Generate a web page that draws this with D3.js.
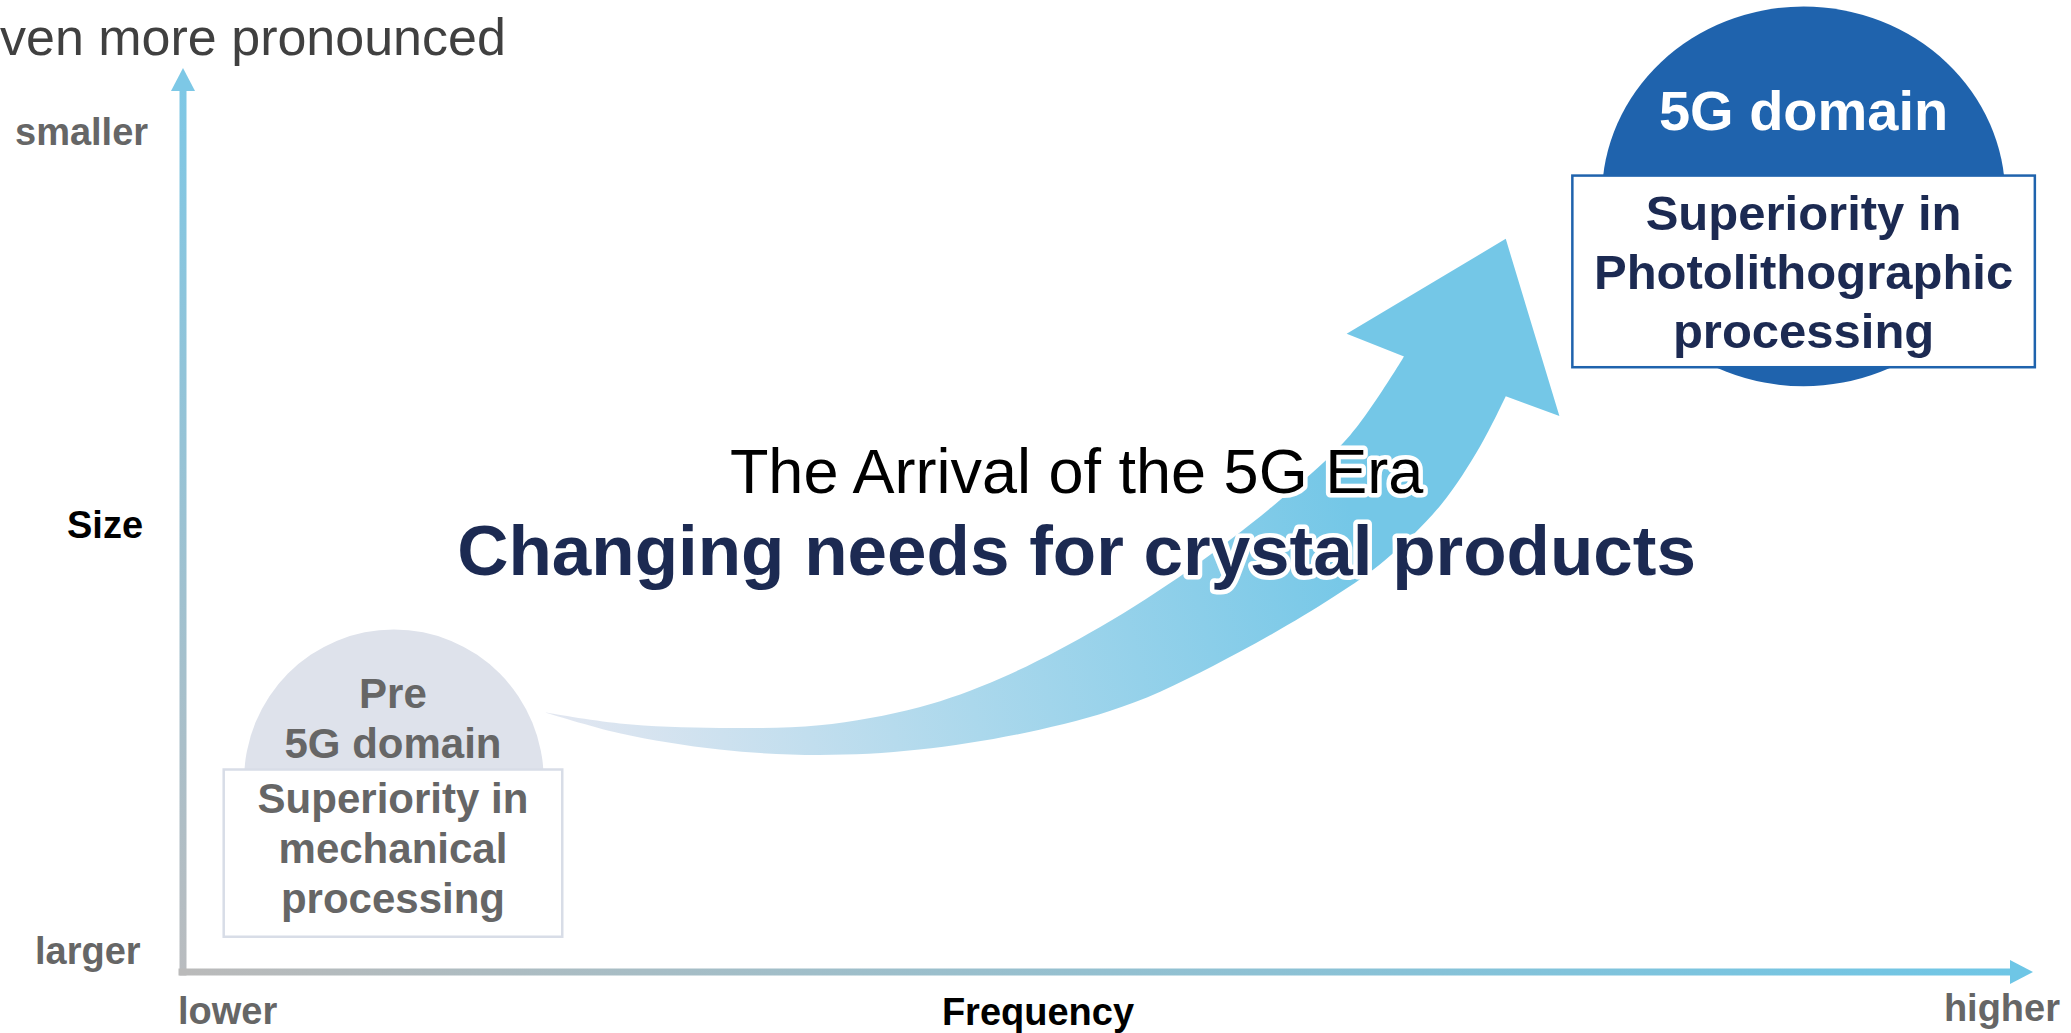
<!DOCTYPE html>
<html>
<head>
<meta charset="utf-8">
<script src="https://cdn.jsdelivr.net/npm/d3@7"></script>
<style>
  html, body { margin: 0; padding: 0; background: #ffffff; }
  svg { display: block; }
  text { font-family: "Liberation Sans", Arial, Helvetica, sans-serif; }
</style>
</head>
<body>
<svg id="chart" width="2071" height="1033"></svg>
<script>
// Axis ends (frequency runs left→right, size runs larger→smaller upward)
const axisDomain = [0, 100];
const sizeLabels = ["smaller", "Size", "larger"];
const freqLabels = ["lower", "Frequency", "higher"];

// Curved transition arrow, expressed in [frequency, size] units
const arrowUpper = [[19.6, 28.7], [23.6, 27.5], [29.0, 27.0], [34.4, 27.3], [39.8, 29.3], [44.2, 32.5],
                    [49.6, 38.2], [54.4, 44.5], [59.3, 52.2], [63.1, 59.4], [66.0, 68.1]];
const arrowHead  = [[62.9, 70.6], [71.5, 81.1], [74.4, 61.5], [71.5, 63.7]];
const arrowLower = [[71.5, 63.7], [70.1, 58.1], [68.0, 51.7], [65.0, 45.6], [62.2, 41.5], [57.1, 35.4],
                    [51.4, 29.8], [46.3, 26.8], [39.8, 24.6], [34.4, 24.0], [29.0, 24.6], [23.6, 26.4], [19.6, 28.7]];

// The two technology domains
const domainTitles   = [["Pre", "5G domain"], ["5G domain"]];
const domainFeatures = [["Superiority in", "mechanical", "processing"],
                        ["Superiority in", "Photolithographic", "processing"]];
const domainCentres  = [[11.4, 21.2], [87.6, 85.8]];
const domainRadii    = [[8.1, 16.7], [10.9, 21.0]];
const domainBoxes    = [[2.2, 20.5, 22.4, 3.9], [75.1, 100.1, 88.1, 66.9]]; // f0, f1, sizeTop, sizeBottom

const headline = ["The Arrival of the 5G Era", "Changing needs for crystal products"];
const introTail = "ven more pronounced";

const svg = d3.select("#chart");

const x = d3.scaleLinear().domain(axisDomain).range([183, 2033]);
const y = d3.scaleLinear().domain(axisDomain).range([972, 68]);

const defs = svg.append("defs");

// Gradients
const gv = defs.append("linearGradient").attr("id", "gradV")
  .attr("gradientUnits", "userSpaceOnUse")
  .attr("x1", 0).attr("y1", y(100)).attr("x2", 0).attr("y2", y(0));
gv.append("stop").attr("offset", 0).attr("stop-color", "#7dc8e6");
gv.append("stop").attr("offset", 1).attr("stop-color", "#b9bcbf");

const gh = defs.append("linearGradient").attr("id", "gradH")
  .attr("gradientUnits", "userSpaceOnUse")
  .attr("x1", x(0)).attr("y1", 0).attr("x2", x(100)).attr("y2", 0);
gh.append("stop").attr("offset", 0).attr("stop-color", "#bababa");
gh.append("stop").attr("offset", 1).attr("stop-color", "#6ec6e6");

const ga = defs.append("linearGradient").attr("id", "gradArrow")
  .attr("gradientUnits", "userSpaceOnUse")
  .attr("x1", x(19.6)).attr("y1", y(28.7)).attr("x2", x(63)).attr("y2", y(52));
ga.append("stop").attr("offset", 0).attr("stop-color", "#e3e7f1");
ga.append("stop").attr("offset", 0.5).attr("stop-color", "#abd8ec");
ga.append("stop").attr("offset", 1).attr("stop-color", "#74c7e7");

// Tail of the introductory sentence at the top
svg.append("text")
  .attr("x", 0).attr("y", 55)
  .attr("font-size", 52).attr("fill", "#404040")
  .text(introTail);

// Axes
const axisW = 7;
const headLen = 23, headHalf = 12;
svg.append("rect")
  .attr("x", x(0) - axisW / 2).attr("y", y(100) + headLen - 1)
  .attr("width", axisW).attr("height", y(0) + axisW / 2 - (y(100) + headLen - 1))
  .attr("fill", "url(#gradV)");
svg.append("path")
  .attr("d", `M${x(0)},${y(100)} L${x(0) + headHalf},${y(100) + headLen} L${x(0) - headHalf},${y(100) + headLen} Z`)
  .attr("fill", "#7dc8e6");

svg.append("rect")
  .attr("x", x(0) - axisW / 2 - 1).attr("y", y(0) - axisW / 2)
  .attr("width", x(100) - headLen + 1 - (x(0) - axisW / 2 - 1)).attr("height", axisW)
  .attr("fill", "url(#gradH)");
svg.append("path")
  .attr("d", `M${x(100)},${y(0)} L${x(100) - headLen},${y(0) - headHalf} L${x(100) - headLen},${y(0) + headHalf} Z`)
  .attr("fill", "#6ec6e6");

// Axis labels
const axisFont = 38;
svg.append("text").attr("x", 15).attr("y", 145).attr("font-size", axisFont)
  .attr("font-weight", "bold").attr("fill", "#666666").text(sizeLabels[0]);
svg.append("text").attr("x", 67).attr("y", 538).attr("font-size", axisFont)
  .attr("font-weight", "bold").attr("fill", "#000000").text(sizeLabels[1]);
svg.append("text").attr("x", 35).attr("y", 964).attr("font-size", axisFont)
  .attr("font-weight", "bold").attr("fill", "#666666").text(sizeLabels[2]);

svg.append("text").attr("x", x(0) - 5).attr("y", 1024).attr("font-size", axisFont)
  .attr("font-weight", "bold").attr("fill", "#666666").text(freqLabels[0]);
svg.append("text").attr("x", 1038).attr("y", 1025).attr("font-size", axisFont)
  .attr("text-anchor", "middle").attr("font-weight", "bold").attr("fill", "#000000").text(freqLabels[1]);
svg.append("text").attr("x", 2060).attr("y", 1021).attr("font-size", axisFont)
  .attr("text-anchor", "end").attr("font-weight", "bold").attr("fill", "#666666").text(freqLabels[2]);

// Domains
const domainFill   = ["#dee2eb", "#1f63ad"];
const boxStroke    = ["#d8dde7", "#1f63ad"];
const titleColour  = ["#666666", "#ffffff"];
const featColour   = ["#666666", "#1c2a52"];
const titleSize    = [42, 56];
const featSize     = [42, 49];
const titleOffsets = [[-62, -12], [-46]];
const featStart    = [43, 54];
const featStep     = [50, 59];

domainCentres.forEach((c, i) => {
  const g = svg.append("g").attr("class", "domain");
  const [rf, rs] = domainRadii[i];
  g.append("ellipse")
    .attr("cx", x(c[0])).attr("cy", y(c[1]))
    .attr("rx", x(rf) - x(0)).attr("ry", y(0) - y(rs))
    .attr("fill", domainFill[i]);
  const [f0, f1, sTop, sBot] = domainBoxes[i];
  const bx = x(f0), bw = x(f1) - x(f0), by = y(sTop), bh = y(sBot) - y(sTop);
  const midX = bx + bw / 2;
  domainTitles[i].forEach((t, k) => {
    g.append("text").attr("x", midX).attr("y", by + titleOffsets[i][k])
      .attr("text-anchor", "middle").attr("font-size", titleSize[i])
      .attr("font-weight", "bold").attr("fill", titleColour[i]).text(t);
  });
  g.append("rect").attr("x", bx).attr("y", by).attr("width", bw).attr("height", bh)
    .attr("fill", "#ffffff").attr("stroke", boxStroke[i]).attr("stroke-width", 2.5);
  domainFeatures[i].forEach((t, k) => {
    g.append("text").attr("x", midX).attr("y", by + featStart[i] + k * featStep[i])
      .attr("text-anchor", "middle").attr("font-size", featSize[i])
      .attr("font-weight", "bold").attr("fill", featColour[i]).text(t);
  });
});

// Transition arrow
const edge = d3.line().x(d => x(d[0])).y(d => y(d[1])).curve(d3.curveCatmullRom.alpha(0.5));
const upperPath = edge(arrowUpper);
const headPath = arrowHead.map(p => `L${x(p[0])},${y(p[1])}`).join("");
const lowerPath = edge(arrowLower).replace(/^M/, "L");
svg.append("path")
  .attr("d", upperPath + headPath + lowerPath + "Z")
  .attr("fill", "url(#gradArrow)");

// Headline with white halo
const headX = x(48.3);
svg.append("text")
  .attr("x", headX).attr("y", 493).attr("text-anchor", "middle")
  .attr("font-size", 63).attr("fill", "#000000")
  .attr("stroke", "#ffffff").attr("stroke-width", 9).attr("stroke-linejoin", "round")
  .attr("paint-order", "stroke")
  .text(headline[0]);
svg.append("text")
  .attr("x", headX).attr("y", 575).attr("text-anchor", "middle")
  .attr("font-size", 71).attr("font-weight", "bold").attr("fill", "#1c2a52")
  .attr("stroke", "#ffffff").attr("stroke-width", 9).attr("stroke-linejoin", "round")
  .attr("paint-order", "stroke")
  .text(headline[1]);
</script>
</body>
</html>
